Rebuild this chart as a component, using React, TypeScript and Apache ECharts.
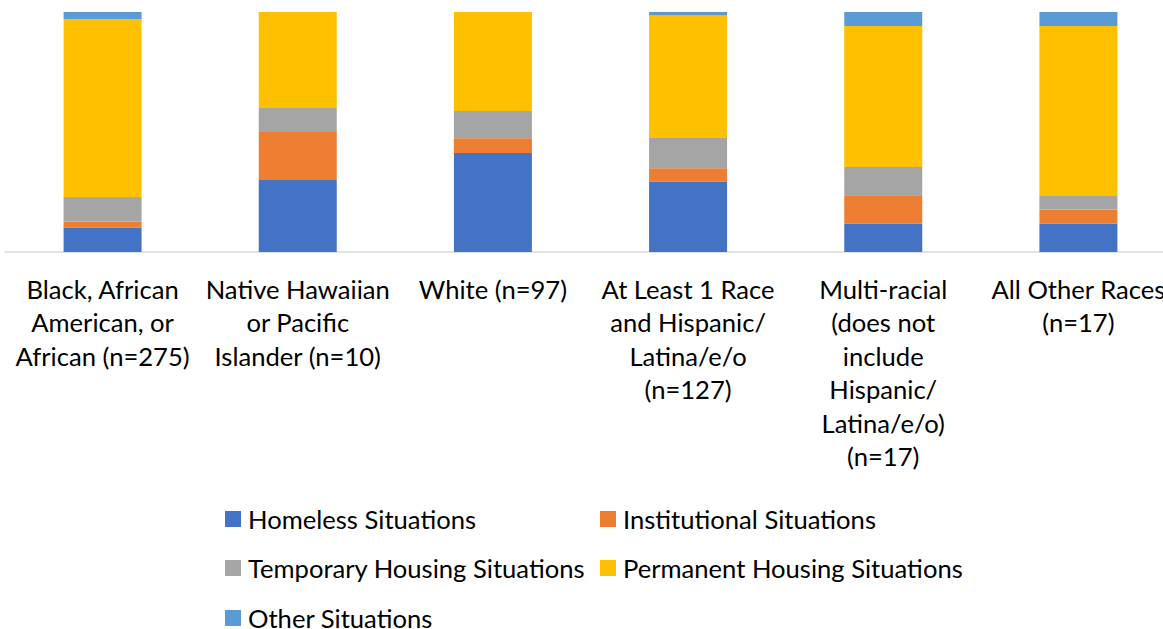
import React, { useEffect, useRef } from "react";
import * as echarts from "echarts";

const categories = [
  "Black, African\nAmerican, or\nAfrican (n=275)",
  "Native Hawaiian\nor Pacific\nIslander (n=10)",
  "White (n=97)",
  "At Least 1 Race\nand Hispanic/\nLatina/e/o\n(n=127)",
  "Multi-racial\n(does not\ninclude\nHispanic/\nLatina/e/o)\n(n=17)",
  "All Other Races\n(n=17)",
];

const seriesNames = [
  "Homeless Situations",
  "Institutional Situations",
  "Temporary Housing Situations",
  "Permanent Housing Situations",
  "Other Situations",
];

// percentages of each group
const homeless = [10.2, 30, 41.2, 29.4, 11.8, 11.8];
const institutional = [2.5, 20, 6.2, 5.5, 11.8, 5.9];
const temporary = [10.2, 10, 11.3, 12.6, 11.8, 5.9];
const permanent = [74.2, 40, 41.3, 51.0, 58.8, 70.6];
const other = [2.9, 0, 0, 1.5, 5.8, 5.8];

const seriesValues = [homeless, institutional, temporary, permanent, other];
const colors = ["#4472C4", "#ED7D31", "#A5A5A5", "#FFC000", "#5B9BD5"];

export default function App() {
  const ref = useRef<HTMLDivElement>(null);
  useEffect(() => {
    if (!ref.current) return;
    const chart = echarts.init(ref.current, null, { renderer: "svg" });
    const FONT = "Lato, 'Open Sans', sans-serif";
    const legendPos = [
      [225, 506],
      [600, 506],
      [225, 555],
      [600, 555],
      [225, 605],
    ];
    chart.setOption({
      animation: false,
      grid: {
        left: 5,
        right: -13,
        top: 12,
        bottom: 377,
        containLabel: false,
        outerBoundsMode: "none",
      },
      xAxis: {
        type: "category",
        data: categories,
        axisLine: { lineStyle: { color: "#d9d9d9", width: 1.5 } },
        axisTick: { show: false },
        axisLabel: {
          interval: 0,
          margin: 20,
          fontFamily: FONT,
          fontSize: 25.6,
          lineHeight: 33.5,
          color: "#000",
        },
      },
      yAxis: { type: "value", min: 0, max: 100, show: false },
      legend: seriesNames.map((n, i) => ({
        data: [n],
        left: legendPos[i][0],
        top: legendPos[i][1],
        itemWidth: 16,
        itemHeight: 16,
        padding: 0,
        icon: "rect",
        selectedMode: false,
        textStyle: {
          fontFamily: FONT,
          fontSize: 25.6,
          lineHeight: 16,
          color: "#000",
          padding: [0, 0, 0, 2],
        },
      })),
      series: seriesNames.map((n, i) => ({
        name: n,
        type: "bar",
        stack: "total",
        barWidth: 78,
        data: seriesValues[i],
        itemStyle: { color: colors[i] },
        emphasis: { disabled: true },
      })),
    });
    return () => chart.dispose();
  }, []);
  return (
    <div
      ref={ref}
      style={{ position: "absolute", left: 0, top: 0, width: 1163, height: 629 }}
    />
  );
}
